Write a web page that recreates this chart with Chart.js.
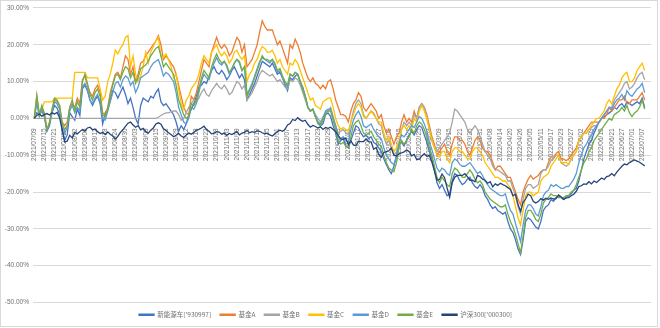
<!DOCTYPE html>
<html>
<head>
<meta charset="utf-8">
<script src="https://cdn.jsdelivr.net/npm/chart.js@4.4.1/dist/chart.umd.min.js"></script>
<style>
html, body { margin: 0; padding: 0; background: #fff; }
#wrap { width: 660px; height: 328px; position: relative; }
</style>
</head>
<body>
<div id="wrap"><canvas id="myChart"></canvas></div>
<script>
// trading days, one line per month
const tradingMonths = [
  '2021/07:09 12 13 14 15 16 19 20 21 22 23 26 27 28 29 30',
  '2021/08:02 03 04 05 06 09 10 11 12 13 16 17 18 19 20 23 24 25 26 27 30 31',
  '2021/09:01 02 03 06 07 08 09 10 13 14 15 16 17 22 23 24 27 28 29 30',
  '2021/10:08 11 12 13 14 15 18 19 20 21 22 25 26 27 28 29',
  '2021/11:01 02 03 04 05 08 09 10 11 12 15 16 17 18 19 22 23 24 25 26 29 30',
  '2021/12:01 02 03 06 07 08 09 10 13 14 15 16 17 20 21 22 23 24 27 28 29 30 31',
  '2022/01:04 05 06 07 10 11 12 13 14 17 18 19 20 21 24 25 26 27 28',
  '2022/02:07 08 09 10 11 14 15 16 17 18 21 22 23 24 25 28',
  '2022/03:01 02 03 04 07 08 09 10 11 14 15 16 17 18 21 22 23 24 25 28 29 30 31',
  '2022/04:01 06 07 08 11 12 13 14 15 18 19 20 21 22 25 26 27 28 29',
  '2022/05:05 06 09 10 11 12 13 16 17 18 19 20 23 24 25 26 27 30 31',
  '2022/06:01 02 06 07 08 09 10 13 14 15 16 17 20 21 22 23 24 27 28 29 30',
  '2022/07:01 04 05 06 07 08 11 12'
];
const days = [];
tradingMonths.forEach(function (m) {
  const parts = m.split(':');
  parts[1].split(' ').forEach(function (d) { days.push(parts[0] + '/' + d); });
});

const seriesNames = ["新能源车['930997]", '基金A', '基金B', '基金C', '基金D', '基金E', "沪深300['000300]"];
const seriesColors = ['#4472C4', '#ED7D31', '#A5A5A5', '#FFC000', '#5B9BD5', '#70AD47', '#264478'];

// cumulative return, %
const nev = [
  0, 1.5, 1.0, 2.0, 0.5, -3.5, -2.0, 1.5, 3.5, 2.8, 1.0, -2.5, -6.0, -4.5, 1.5, 0.5,
  -0.5, 2.5, 0.8, 8.0, 9.0, 7.5, 5.0, 3.5, 5.0, 6.0, 4.0, -1.5, 1.5, 2.5, 5.0, 7.5, 7.0, 5.5, 7.0, 8.5, 6.5, 4.0,
  5.5, 3.0, 0.0, -1.5, 3.5, 5.5, 5.0, 4.5, 6.0, 5.5, 7.0, 8.0, 4.5, 3.5, 4.0, 3.0, 2.0, 1.0, -1.0, -3.5,
  -2.0, -3.0, -1.5, 1.0, 2.5, 4.0, 6.0, 8.5, 9.0, 10.0, 9.5, 11.5, 13.0, 14.0, 12.5, 12.0,
  13.0, 12.0, 10.5, 11.5, 13.0, 14.0, 12.5, 11.0, 12.0, 10.5, 5.0, 6.5, 8.0, 9.5, 11.5, 13.5, 15.5, 15.0, 14.5, 14.0, 15.0, 13.5,
  12.0, 12.5, 11.0, 9.0, 7.5, 11.0, 10.5, 11.5, 12.0, 10.0, 8.5, 6.0, 3.0, 2.0, 2.5, 0.5, -1.0, -2.0, -1.5, 1.0, 1.5, 0.5, -2.0,
  -4.0, -7.0, -6.0, -5.5, -7.5, -8.0, -6.0, -4.0, -2.0, -2.5, -4.0, -5.0, -4.5, -5.5, -5.0, -6.5, -7.0, -8.0, -9.0,
  -11.0, -12.5, -14.0, -15.0, -13.0, -10.0, -7.0, -6.5, -7.5, -6.0, -4.5, -3.5, -4.5, -3.0, -2.0, -2.5,
  -4.5, -6.5, -9.0, -11.0, -14.0, -17.5, -19.0, -18.0, -19.5, -21.0, -20.5, -17.0, -15.0, -15.5, -17.0, -18.0, -17.5, -16.5, -16.0, -17.5, -18.5, -19.0, -18.0,
  -19.0, -21.0, -22.0, -23.5, -24.5, -24.0, -25.0, -25.5, -26.0, -25.5, -28.0, -30.0, -31.0, -33.0, -35.5, -37.0, -33.0, -28.0, -27.0,
  -27.5, -28.5, -29.5, -30.0, -28.0, -25.0, -24.0, -23.5, -22.0, -22.5, -21.5, -21.0, -21.5, -22.0, -21.5, -21.0, -20.5, -19.5, -19.0,
  -17.0, -14.0, -11.0, -9.0, -7.0, -6.0, -4.0, -2.5, -1.0, 0.0, 0.5, 1.0, 1.5, 2.0, 3.0, 2.5, 3.5, 4.0, 3.0, 4.5, 4.0,
  3.5, 4.0, 4.5, 4.0, 5.5, 3.0
];
const fundA = [
  0, 6.0, 1.0, 3.0, 1.5, -3.0, -1.0, 2.0, 5.0, 4.5, 3.5, -1.0, -2.0, -1.0, 3.0, 4.0,
  3.0, 5.5, 4.0, 10.5, 11.5, 9.0, 7.0, 6.0, 8.0, 9.0, 7.0, 1.5, 1.0, 3.0, 7.0, 9.5, 12.0, 12.5, 11.0, 14.0, 17.0, 16.0,
  12.0, 14.0, 10.0, 12.0, 15.0, 15.5, 17.0, 18.0, 19.0, 20.0, 21.0, 22.5, 20.0, 16.0, 17.0, 16.0, 15.0, 14.0, 12.0, 9.0,
  6.0, 3.0, 1.5, 1.0, 6.0, 5.0, 7.0, 10.0, 13.0, 16.0, 15.0, 14.0, 18.0, 20.0, 22.0, 20.0,
  19.0, 20.0, 19.0, 17.0, 18.0, 20.0, 22.0, 21.0, 18.0, 20.0, 14.0, 15.0, 16.0, 18.0, 20.0, 23.5, 26.5, 25.0, 24.0, 24.0, 24.0, 22.0,
  20.0, 21.0, 19.0, 17.0, 15.0, 20.0, 19.0, 21.5, 20.0, 18.0, 15.0, 13.0, 11.0, 10.0, 11.0, 9.5, 9.0, 8.0, 9.0, 8.0, 10.0, 10.5, 8.0,
  5.0, 3.0, 1.0, 1.0, 0.5, -1.0, 2.0, 4.0, 5.0, 7.0, 6.0, 3.0, 2.0, 3.0, 4.0, 3.0, 2.0, 0.0, 1.0,
  -2.0, -4.0, -3.0, -5.0, -7.0, -5.0, -4.0, -1.0, 1.0, -1.0, 0.0, -1.0, 2.0, 0.0, 3.0, 4.0,
  3.0, 1.0, -2.0, -5.0, -7.0, -10.0, -9.0, -8.0, -7.0, -9.0, -10.0, -7.0, -5.0, -5.0, -6.0, -6.0, -7.0, -9.0, -10.0, -8.0, -6.0, -5.0, -6.0,
  -8.0, -9.0, -9.0, -10.0, -12.0, -14.0, -13.0, -13.0, -14.0, -15.0, -16.0, -16.0, -18.0, -20.0, -22.0, -23.5, -20.0, -18.0, -16.5,
  -15.5, -16.5, -16.0, -15.5, -14.5, -14.0, -14.0, -12.0, -10.5, -10.5, -9.5, -9.0, -11.0, -11.0, -11.5, -11.0, -10.0, -9.0, -8.0,
  -6.0, -5.0, -4.0, -3.0, -2.0, -1.0, -1.0, -1.0, -1.0, 0.0, 0.0, 1.0, 3.0, 2.0, 3.0, 4.0, 5.0, 5.0, 6.0, 4.0, 4.0,
  5.0, 5.0, 5.0, 6.0, 7.0, 5.0
];
const fundB = [
  0, 0, 0, 0, 0, 0, 0, 0, 0, 0, 0, 0, 0, 0, 0, 0,
  0, 0, 0, 0, 0, 0, 0, 0, 0, 0, 0, 0, 0, 0, 0, 0, 0, 0, 0, 0, 0, 0,
  0, 0, 0, 0, 0, 0, 0, 0, 0, 0, 0, 0.3, 0.8, 1.2, 1.5, 1.5, 1.8, 2.0, 2.0, 1.0,
  -0.5, 0.0, 1.5, 3.0, 4.0, 5.0, 4.5, 5.5, 7.0, 8.0, 6.5, 6.0, 7.5, 8.5, 9.5, 8.5,
  8.0, 9.0, 8.0, 6.5, 7.0, 8.5, 10.0, 9.5, 8.0, 9.0, 5.0, 6.0, 7.0, 8.5, 10.0, 12.0, 13.0, 12.5, 12.0, 11.5, 12.0, 11.0,
  10.0, 10.5, 9.5, 8.5, 8.0, 10.5, 10.0, 11.0, 10.5, 9.0, 7.0, 5.0, 3.0, 2.0, 2.5, 1.0, 0.0, -1.0, 0.5, 1.5, 2.0, 3.0, 0.5,
  -2.0, -4.0, -3.5, -3.0, -4.0, -4.5, -1.0, 2.0, 4.0, 5.0, 4.0, 1.0, 0.0, 1.0, 2.0, 1.5, 0.0, -1.5, -2.0,
  -5.0, -7.0, -6.0, -8.0, -10.0, -9.0, -7.0, -3.0, -1.0, -2.0, -1.0, -2.0, 1.0, 0.0, 3.0, 4.0,
  3.0, 0.0, -3.0, -6.0, -8.0, -9.0, -8.0, -7.0, -6.0, -5.0, -4.0, -1.0, 2.5, 2.0, 1.0, 0.0, -1.0, -3.0, -4.0, -3.0, -2.0, -3.0, -5.0,
  -7.0, -9.0, -10.0, -11.0, -13.0, -14.0, -14.0, -14.5, -15.0, -15.5, -17.0, -17.0, -19.0, -21.0, -24.0, -26.0, -22.0, -19.0, -18.0,
  -18.0, -19.0, -18.5, -18.0, -15.0, -14.0, -14.0, -13.0, -11.5, -11.0, -10.0, -10.0, -12.0, -12.5, -13.0, -12.5, -11.0, -10.0, -9.0,
  -6.0, -5.0, -4.0, -4.0, -3.0, -2.5, -2.0, -2.0, -1.0, 0.0, 1.0, 2.0, 3.0, 3.0, 5.0, 6.0, 7.0, 8.0, 9.5, 10.0, 8.0,
  8.5, 9.5, 11.0, 12.0, 12.5, 10.5
];
const fundC = [
  0, 5.0, 0.5, 2.5, 4.5, 4.5, 4.5, 4.5, 5.5, 5.5, 5.5, 5.5, 5.5, 5.5, 5.5, 5.5,
  12.5, 12.5, 12.5, 12.5, 12.5, 11.0, 11.0, 11.0, 11.0, 11.0, 8.0, 5.0, 6.0, 10.0, 12.0, 15.0, 18.5, 17.5, 19.0, 20.0, 22.0, 22.5,
  14.0, 17.0, 12.0, 10.0, 11.5, 14.0, 18.0, 15.0, 18.0, 19.5, 21.0, 22.0, 17.0, 16.5, 17.5, 16.0, 14.0, 11.0, 12.0, 8.0,
  4.0, 2.5, 5.0, 6.0, 8.0, 9.0, 10.0, 12.0, 15.0, 17.0, 16.0, 15.0, 18.0, 19.0, 20.0, 18.0,
  17.0, 18.0, 17.0, 15.0, 16.0, 18.0, 18.5, 17.0, 16.0, 17.0, 10.0, 12.0, 13.0, 15.0, 16.0, 18.0, 19.5, 19.0, 18.0, 18.0, 18.5, 17.0,
  15.0, 16.0, 14.0, 13.0, 12.0, 15.0, 14.5, 16.0, 15.0, 13.0, 11.0, 9.0, 7.0, 5.0, 5.5, 3.5, 3.0, 2.5, 4.5, 5.0, 5.5, 5.5, 3.0,
  0.0, -2.0, -3.0, -2.5, -3.0, -3.5, -1.0, 1.0, 3.0, 4.0, 3.0, 0.5, 0.0, 1.0, 2.0, 1.0, 0.0, -1.0, -1.0,
  -4.0, -6.0, -5.0, -7.0, -9.0, -8.0, -6.0, -3.0, -2.0, -3.0, -2.0, -3.0, 0.0, -1.0, 2.0, 3.5,
  2.0, 0.0, -3.0, -6.0, -8.0, -10.0, -10.5, -9.0, -9.0, -11.0, -12.0, -9.0, -8.0, -8.0, -9.0, -9.0, -10.0, -11.0, -11.0, -9.0, -8.0, -8.0, -9.0,
  -10.0, -12.0, -13.0, -14.0, -15.0, -16.0, -16.0, -16.5, -17.0, -17.0, -18.0, -19.0, -21.0, -24.0, -27.0, -29.0, -25.0, -21.0, -20.0,
  -20.0, -21.0, -20.5, -20.0, -17.0, -16.0, -15.5, -15.0, -13.0, -12.0, -11.0, -10.0, -12.0, -12.0, -12.0, -12.5, -11.0, -10.0, -9.0,
  -6.0, -5.0, -4.0, -4.0, -3.0, -2.0, -1.0, 0.0, 0.0, 1.0, 2.0, 4.0, 5.0, 4.0, 6.0, 8.0, 9.0, 11.0, 12.0, 12.5, 10.0,
  10.0, 11.0, 13.0, 14.0, 15.0, 13.0
];
const fundD = [
  0, 4.0, 0.5, 2.5, 0.5, -3.0, -1.5, 2.0, 4.5, 4.0, 2.5, -1.5, -4.0, -2.5, 2.0, 3.5,
  1.5, 3.0, 2.0, 8.5, 9.5, 8.0, 5.0, 4.0, 5.5, 6.5, 4.5, 0.0, -0.5, 2.0, 4.5, 7.0, 9.5, 10.0, 8.5, 10.5, 11.5, 11.0,
  9.0, 10.0, 7.0, 8.5, 11.0, 11.5, 12.0, 12.5, 14.0, 15.0, 15.5, 16.0, 14.0, 11.5, 12.5, 12.0, 11.0, 10.0, 7.0, 3.0,
  1.0, -1.0, -1.5, 0.0, 3.0, 2.5, 4.0, 7.0, 10.0, 12.0, 11.0, 10.5, 13.0, 15.0, 16.5, 15.0,
  14.5, 15.5, 14.0, 12.0, 13.5, 15.0, 16.0, 15.0, 13.0, 14.0, 6.5, 8.0, 9.5, 11.5, 13.5, 15.5, 16.5, 16.0, 15.5, 15.0, 16.0, 14.5,
  12.5, 13.0, 11.0, 9.5, 8.5, 12.0, 11.5, 12.5, 12.0, 10.0, 8.0, 6.0, 3.0, 2.0, 2.5, 0.5, -1.0, -1.5, 0.0, 2.0, 2.5, 2.5, 0.0,
  -2.0, -5.0, -5.5, -5.0, -6.0, -6.5, -3.0, -0.5, 1.0, 2.0, 0.5, -2.0, -2.5, -2.0, -1.5, -3.0, -4.0, -5.0, -5.5,
  -8.0, -10.0, -11.0, -12.0, -12.5, -10.5, -7.0, -4.5, -5.0, -4.0, -3.0, -2.0, -2.5, -1.0, 0.5, 0.0,
  -1.5, -3.5, -6.5, -8.5, -11.0, -13.5, -14.5, -13.5, -14.0, -15.0, -15.5, -12.0, -11.0, -11.5, -12.5, -13.0, -13.0, -12.5, -12.0, -13.0, -14.0, -15.0, -14.5,
  -15.5, -17.0, -18.0, -19.0, -19.5, -20.0, -20.5, -21.0, -21.0, -20.5, -23.0, -25.0, -26.0, -28.5, -31.0, -33.5, -29.0, -25.0, -23.5,
  -23.5, -24.5, -26.0, -26.5, -24.0, -21.0, -20.0, -19.5, -18.0, -18.5, -18.0, -18.5, -19.0, -19.0, -18.5, -18.5, -17.5, -16.5, -15.0,
  -12.0, -10.0, -8.0, -7.0, -5.5, -4.5, -3.0, -2.0, -1.0, 0.0, 1.0, 2.0, 3.0, 2.5, 4.0, 5.0, 5.5, 6.5, 5.0, 7.5, 6.5,
  6.0, 7.0, 8.0, 8.5, 9.5, 7.0
];
const fundE = [
  0, 6.3, 1.0, 3.5, 1.0, -3.0, -1.5, 2.5, 5.5, 5.0, 3.5, -1.5, -3.0, -2.0, 3.0, 5.0,
  2.0, 4.5, 3.0, 10.0, 12.0, 9.5, 6.5, 5.0, 7.0, 8.0, 6.0, 1.0, 0.5, 2.5, 6.0, 9.0, 11.5, 12.0, 10.5, 12.5, 14.0, 13.5,
  11.0, 12.5, 9.5, 11.0, 13.5, 14.0, 14.5, 15.5, 17.0, 18.0, 19.0, 19.5, 17.0, 14.0, 15.0, 14.0, 13.0, 12.0, 9.0, 5.0,
  3.0, 1.0, 0.0, 0.5, 4.0, 3.5, 5.0, 8.0, 11.0, 13.0, 12.0, 11.0, 14.0, 16.0, 17.5, 16.0,
  15.0, 15.5, 14.5, 12.5, 13.5, 15.0, 16.0, 15.5, 13.0, 14.0, 6.0, 7.5, 9.0, 11.0, 13.0, 15.0, 17.0, 16.0, 16.0, 15.5, 16.0, 15.0,
  13.0, 13.5, 11.5, 10.0, 9.0, 12.0, 11.5, 12.5, 12.0, 10.0, 8.0, 6.0, 3.0, 2.0, 2.5, 0.5, -1.5, -2.0, -0.5, 1.5, 2.0, 2.0, -0.5,
  -3.0, -6.0, -7.0, -6.5, -7.5, -8.0, -5.0, -2.0, -1.0, -0.5, -2.0, -4.0, -4.5, -4.0, -3.5, -5.0, -6.0, -7.0, -7.5,
  -10.0, -12.0, -13.5, -14.0, -14.5, -12.0, -8.0, -6.0, -7.0, -6.0, -5.0, -3.0, -4.0, -2.0, -1.0, -1.5,
  -3.0, -5.0, -8.0, -10.0, -13.0, -16.0, -17.5, -16.0, -17.0, -18.0, -18.5, -15.0, -13.5, -14.0, -15.0, -16.0, -16.0, -15.0, -14.0, -15.0, -16.5, -17.5, -17.0,
  -18.0, -20.0, -21.0, -22.0, -22.5, -23.0, -23.5, -24.0, -24.0, -23.5, -26.0, -28.0, -29.5, -31.5, -34.0, -36.5, -32.0, -27.0, -25.0,
  -25.0, -26.0, -27.5, -28.0, -26.0, -23.0, -22.0, -21.5, -20.5, -21.0, -21.0, -21.5, -21.5, -21.5, -21.0, -21.0, -20.0, -19.5, -18.0,
  -16.0, -14.0, -12.0, -11.0, -9.0, -8.0, -6.0, -5.0, -4.0, -3.0, -2.0, -1.0, 0.0, -0.5, 1.0, 1.5, 2.0, 3.0, 2.0, 3.5, 1.5,
  0.5, 1.5, 2.0, 3.0, 5.0, 2.5
];
const hs300 = [
  0, 0.8, 1.2, 0.6, 1.0, 1.3, 0.9, 1.5, 1.2, 1.6, 0.2, -3.2, -6.4, -6.2, -4.6, -5.3,
  -3.8, -4.2, -3.6, -3.0, -3.4, -2.6, -2.4, -3.1, -2.9, -3.6, -4.1, -3.8, -4.4, -3.7, -4.3, -4.8, -5.6, -4.9, -3.8, -3.1, -2.2, -1.3,
  -1.0, -1.8, -2.4, -2.0, -3.1, -2.7, -3.6, -4.0, -3.2, -2.6, -1.5, -1.2, -1.6, -2.8, -3.3, -3.9, -4.4, -5.0, -4.6, -4.1,
  -4.8, -5.2, -4.5, -4.0, -4.3, -3.8, -3.2, -3.0, -2.6, -2.1, -3.0, -3.5, -4.2, -4.0, -3.6, -3.7,
  -4.3, -4.0, -4.6, -4.1, -4.4, -4.0, -3.6, -4.5, -4.0, -3.8, -3.3, -3.9, -3.6, -3.8, -3.4, -3.5, -3.9, -4.2, -4.0, -4.5, -4.8, -4.2,
  -3.6, -3.2, -3.5, -3.0, -1.8, -1.4, -0.3, -0.6, 0.2, -0.4, -0.8, -0.5, -1.6, -2.4, -1.9, -2.2, -2.6, -2.3, -3.0, -2.5, -2.7, -2.4, -3.0,
  -3.6, -4.6, -5.6, -5.7, -5.3, -7.1, -6.1, -7.2, -7.4, -6.2, -6.3, -6.3, -5.6, -6.3, -6.4, -8.4, -7.9, -9.8, -10.6,
  -9.3, -9.0, -8.8, -8.1, -10.0, -10.2, -9.6, -9.4, -9.1, -8.6, -9.0, -10.2, -9.8, -11.2, -11.1, -10.2,
  -9.6, -10.3, -10.1, -11.9, -14.3, -16.8, -16.6, -15.1, -16.1, -18.9, -21.4, -17.5, -16.0, -15.5, -15.5, -15.5, -15.0, -15.8, -16.8, -16.8, -17.2, -15.5, -15.8,
  -16.5, -16.8, -17.6, -17.2, -18.6, -17.8, -18.2, -17.6, -18.0, -18.3, -18.8, -19.3, -21.0, -20.6, -23.4, -25.2, -22.8, -21.9, -20.6,
  -21.0, -22.5, -23.0, -22.6, -21.8, -22.2, -21.7, -22.0, -21.6, -21.9, -21.8, -20.8, -21.3, -22.0, -21.6, -21.5, -21.0, -20.6, -19.8,
  -18.5, -18.3, -17.8, -17.9, -17.2, -17.8, -17.0, -17.4, -16.8, -16.2, -16.6, -15.8, -15.6, -15.0, -15.6, -14.6, -13.8, -13.0, -12.4, -12.6, -12.0,
  -11.6, -11.3, -11.6, -11.9, -12.4, -12.9
];
const seriesValues = [nev, fundA, fundB, fundC, fundD, fundE, hs300];

const yMin = -50, yMax = 30, yStep = 10;
const labelEvery = 4;

const frame = {
  id: 'frame',
  beforeDraw: function (chart) {
    const c = chart.ctx;
    c.save();
    c.fillStyle = '#fff';
    c.fillRect(0, 0, chart.width, chart.height);
    c.strokeStyle = '#d9d9d9';
    c.lineWidth = 1;
    c.strokeRect(0.5, 0.5, 657, 326);
    c.restore();
  }
};

const ctx = document.getElementById('myChart').getContext('2d');
const myChart = new Chart(ctx, {
  type: 'line',
  data: {
    labels: days,
    datasets: seriesValues.map(function (vals, i) {
      return {
        label: seriesNames[i],
        data: vals,
        borderColor: seriesColors[i],
        backgroundColor: seriesColors[i],
        borderWidth: 1.3,
        pointRadius: 0,
        tension: 0,
        fill: false,
        order: seriesValues.length - i
      };
    })
  },
  options: {
    responsive: true,
    maintainAspectRatio: false,
    animation: false,
    layout: { padding: { left: 0, right: 9, top: 5.5, bottom: 0 } },
    scales: {
      x: {
        position: { y: 0 },
        offset: true,
        grid: { display: false },
        border: { display: false },
        ticks: {
          autoSkip: false,
          maxRotation: 90,
          minRotation: 90,
          padding: 2,
          color: '#6f6f6f',
          font: { family: 'Liberation Sans', size: 6.5 },
          callback: function (value, index) {
            return index % labelEvery === 0 ? days[index] : null;
          }
        }
      },
      y: {
        min: yMin,
        max: yMax,
        afterFit: function (scale) { scale.width = 33; },
        grid: { color: '#d9d9d9', drawTicks: false },
        border: { display: false },
        ticks: {
          stepSize: yStep,
          padding: 4,
          color: '#6f6f6f',
          font: { family: 'Liberation Sans', size: 6.5 },
          callback: function (value) {
            return value.toFixed(2) + '%';
          }
        }
      }
    },
    plugins: {
      legend: {
        display: true,
        position: 'bottom',
        labels: {
          boxWidth: 15,
          boxHeight: 1,
          padding: 9,
          color: '#6f6f6f',
          font: { family: 'Noto Sans CJK SC', size: 6.5 },
          sort: function (a, b) { return a.datasetIndex - b.datasetIndex; }
        }
      },
      tooltip: { enabled: false }
    }
  },
  plugins: [frame]
});
</script>
</body>
</html>
